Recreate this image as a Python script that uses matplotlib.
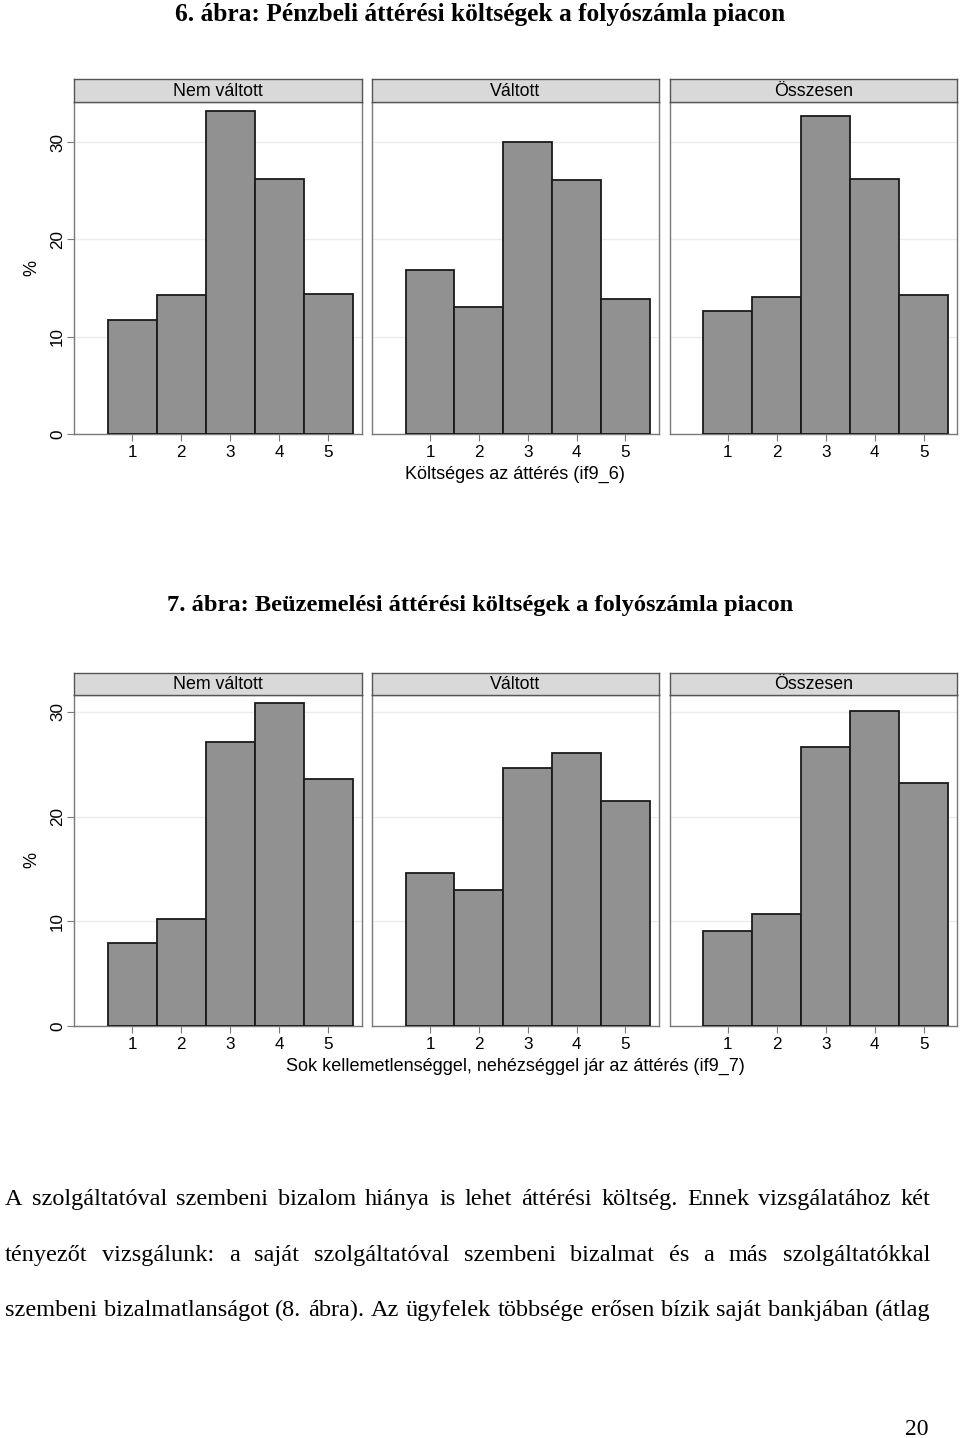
import matplotlib
matplotlib.use("Agg")
import matplotlib.pyplot as plt
import numpy as np

# ---------- data ----------
categories = [1, 2, 3, 4, 5]
panels = ["Nem váltott", "Váltott", "Összesen"]

fig6_title = "6. ábra: Pénzbeli áttérési költségek a folyószámla piacon"
fig6_xlabel = "Költséges az áttérés (if9_6)"
fig6_nem_valtott = [11.7, 14.25, 33.2, 26.2, 14.4]
fig6_valtott = [16.9, 13.05, 30.0, 26.1, 13.85]
fig6_osszesen = [12.6, 14.05, 32.7, 26.2, 14.3]

fig7_title = "7. ábra: Beüzemelési áttérési költségek a folyószámla piacon"
fig7_xlabel = "Sok kellemetlenséggel, nehézséggel jár az áttérés (if9_7)"
fig7_nem_valtott = [7.98, 10.28, 27.15, 30.85, 23.62]
fig7_valtott = [14.58, 13.05, 24.6, 26.1, 21.52]
fig7_osszesen = [9.1, 10.73, 26.68, 30.05, 23.24]

yticks = [0, 10, 20, 30]

paragraph = [
    "A szolgáltatóval szembeni bizalom hiánya is lehet áttérési költség. Ennek vizsgálatához két",
    "tényezőt vizsgálunk: a saját szolgáltatóval szembeni bizalmat és a más szolgáltatókkal",
    "szembeni bizalmatlanságot (8. ábra). Az ügyfelek többsége erősen bízik saját bankjában (átlag",
]
page_no = "20"

# ---------- layout (pixels) ----------
W, H = 960, 1438
fig = plt.figure(figsize=(W / 100, H / 100), dpi=100)
SANS = "Liberation Sans"
SERIF = "Liberation Serif"
BAR = "#919191"
FRAME = "#7a7a7a"

panel_x = [(74, 361.5), (372, 658.5), (669.6, 957)]


def px_rect(x0, x1, ytop, ybot):
    return [x0 / W, 1 - ybot / H, (x1 - x0) / W, (ybot - ytop) / H]


def draw_chart(series, title, tsize, xlabel, title_y, strip_top, plot_top, plot_bot, ymax):
    fig.text(0.5, 1 - title_y / H, title, ha="center", va="center",
             fontsize=tsize, weight="bold", family=SERIF)
    for i, (vals, name) in enumerate(zip(series, panels)):
        x0, x1 = panel_x[i]
        ax = fig.add_axes(px_rect(x0, x1, plot_top, plot_bot))
        ax.bar(categories, vals, width=1.0, color=BAR, edgecolor="#1a1a1a",
               linewidth=1.3, zorder=3)
        ax.set_xlim(-0.19, 5.68)
        ax.set_ylim(0, ymax)
        ax.set_yticks(yticks)
        ax.yaxis.grid(True, color="#ececec", lw=1.0, zorder=0)
        ax.set_xticks(categories)
        ax.set_xticklabels([str(c) for c in categories], fontsize=12.3, family=SANS)
        ax.tick_params(axis="x", length=5, width=0.8, color=FRAME, pad=3)
        for s in ax.spines.values():
            s.set_color(FRAME)
            s.set_linewidth(1.0)
        if i == 0:
            ax.tick_params(axis="y", length=5, width=0.8, color=FRAME, pad=1.5)
            ax.set_yticklabels([str(t) for t in yticks], fontsize=12.3, family=SANS,
                               rotation=90, va="center")
            ax.set_ylabel("%", fontsize=13, family=SANS, labelpad=7)
        else:
            ax.tick_params(axis="y", length=0, labelleft=False)
        if i == 1:
            ax.set_xlabel(xlabel, fontsize=13, family=SANS, labelpad=4)
        # strip header
        sax = fig.add_axes(px_rect(x0, x1, strip_top, plot_top))
        sax.set_facecolor("#d9d9d9")
        sax.set_xticks([])
        sax.set_yticks([])
        for s in sax.spines.values():
            s.set_color("#555555")
            s.set_linewidth(1.0)
        sax.text(0.5, 0.45, name, ha="center", va="center", fontsize=12.8,
                 family=SANS, transform=sax.transAxes)


draw_chart([fig6_nem_valtott, fig6_valtott, fig6_osszesen], fig6_title, 18.3, fig6_xlabel,
           14, 79.3, 102.3, 434, 34.1)
draw_chart([fig7_nem_valtott, fig7_valtott, fig7_osszesen], fig7_title, 17.6, fig7_xlabel,
           606, 672.7, 694.7, 1026.3, 31.64)

# ---------- justified paragraph ----------
renderer = fig.canvas.get_renderer()
left_px, right_px = 5, 930
line_base = [1205, 1261, 1316]
for line, yy in zip(paragraph, line_base):
    words = line.split(" ")
    texts = [fig.text(0, 1 - yy / H, w, fontsize=17.5, family=SERIF, va="baseline")
             for w in words]
    widths = [t.get_window_extent(renderer).width for t in texts]
    gap = (right_px - left_px - sum(widths)) / (len(words) - 1)
    x = left_px
    for t, w in zip(texts, widths):
        t.set_x(x / W)
        x += w + gap

fig.text(917 / W, 1 - 1435 / H, page_no, ha="center", va="baseline", fontsize=17,
         family=SERIF)

fig.savefig("out.png", dpi=100)
